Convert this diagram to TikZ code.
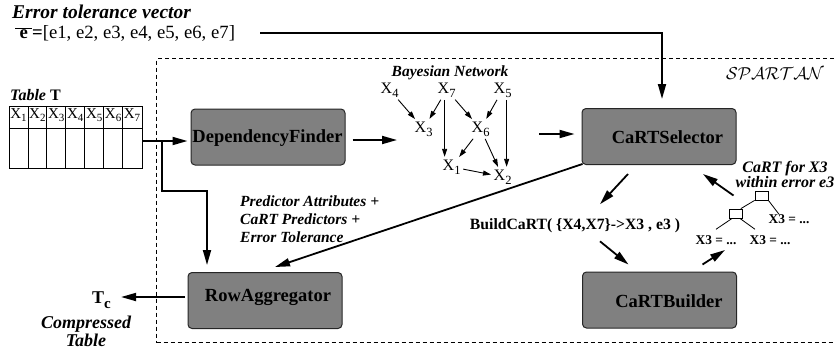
\documentclass[tikz,border=0pt]{standalone}
\usepackage{fontspec}
\setmainfont{Liberation Serif}[BoldFont={Liberation Serif Bold},ItalicFont={Liberation Serif Italic},BoldItalicFont={Liberation Serif Bold Italic}]
\usetikzlibrary{arrows.meta}
\newcommand\fsz[1]{\fontsize{#1}{#1}\selectfont}
\newcommand\xsub[2]{X\raisebox{-.26em}{\fsz{#2}#1}}
\begin{document}
\begin{tikzpicture}[x=1pt,y=-1pt,
  box/.style={draw=black!85,line width=1pt,fill=black!50,rounded corners=4pt,minimum width=154pt,minimum height=56pt,inner sep=0pt},
  boxlbl/.style={font=\fsz{18.5}\bfseries,inner sep=0pt},
  big/.style={line width=1.8pt,-{Triangle[length=15pt,width=8pt]}},
  bn/.style={font=\fsz{16},inner sep=1.5pt,anchor=base west},
  bnarrow/.style={line width=0.9pt,-{Triangle[length=8pt,width=5pt]},shorten >=1pt,shorten <=1pt},
  bi/.style={font=\fontsize{15.5}{18}\selectfont\bfseries\itshape,inner sep=0pt},
  thinl/.style={line width=0.8pt},
  leaf/.style={font=\fsz{13.4}\bfseries,inner sep=0pt},
  tsq/.style={draw,line width=0.8pt,minimum width=13pt,minimum height=9pt,inner sep=0pt}
]
\useasboundingbox (0,0) rectangle (834,349);
\clip (0,0) rectangle (834,349);

% SPARTAN frame
\node[draw,dashed,dash pattern=on 4pt off 3pt,line width=1pt,minimum width=690pt,minimum height=284pt,inner sep=0pt,anchor=north west] (frame) at (156,58) {};
\node[font=\fsz{17.5},inner sep=0pt] (spartan) at (775,74) {$\mathcal{SPARTAN}$};

% error tolerance vector
\node[font=\fsz{19.5}\bfseries\itshape,anchor=west,inner sep=0pt] (evt) at (12,12) {Error tolerance vector};
\node[font=\fsz{18.7},anchor=west,inner sep=0pt] (ev) at (15,33) {$\overline{\makebox[17pt]{\textbf{e}}}$\textbf{=}[e1, e2, e3, e4, e5, e6, e7]};

% table
\node[font=\fsz{16},anchor=west,inner sep=0pt] (tlbl) at (10,95) {\textbf{\itshape Table} \textbf{T}};
\node[draw,line width=0.8pt,minimum width=132.5pt,minimum height=62pt,inner sep=0pt,anchor=north west] (tbl) at (9,106) {};
\foreach \i in {1,...,6} { \draw[thinl] ({9+18.93*\i},106) -- ({9+18.93*\i},168); }
\draw[thinl] (tbl.west |- 0,128) -- (tbl.east |- 0,128);
\foreach \i in {1,...,7} { \node[font=\fsz{15},inner sep=0pt,anchor=base] (h\i) at ({9+18.93*(\i-0.5)},118) {\xsub{\i}{11}}; }

% boxes
\node[box] (dep) at (268,137) {};
\node[boxlbl] (depl) at (267.5,138) {DependencyFinder};
\node[box] (sel) at (659,136.5) {};
\node[boxlbl] (sell) at (667.5,137) {CaRTSelector};
\node[box] (row) at (265,300.5) {};
\node[boxlbl] (rowl) at (268,297) {RowAggregator};
\node[box] (cb) at (659.5,300) {};
\node[boxlbl] (cbl) at (669,301) {CaRTBuilder};

% Bayesian network
\node[bi] (bntitle) at (450,73) {Bayesian Network};
\node[bn] (x4) at (379,93) {\xsub{4}{12.5}};
\node[bn] (x7) at (436,93) {\xsub{7}{12.5}};
\node[bn] (x5) at (492,93) {\xsub{5}{12.5}};
\node[bn] (x3) at (413,132) {\xsub{3}{12.5}};
\node[bn] (x6) at (470,132) {\xsub{6}{12.5}};
\node[bn] (x1) at (441,170) {\xsub{1}{12.5}};
\node[bn] (x2) at (492,180) {\xsub{2}{12.5}};
\draw[bnarrow] (x4) -- (x3);
\draw[bnarrow] (x7) -- (x3);
\draw[bnarrow] (x7) -- (x6);
\draw[bnarrow] ([xshift=-2pt]x7.south) -- ([xshift=-2pt]x7.south |- x1.north);
\draw[bnarrow] (x5) -- (x6);
\draw[bnarrow] ([xshift=4pt]x5.south) -- ([xshift=4pt]x5.south |- x2.north);
\draw[bnarrow] (x6) -- (x1);
\draw[bnarrow] (x6) -- (x2);
\draw[bnarrow] (x1) -- (x2);

% labels
\node[bi,align=left,anchor=north west] (pred) at (240,196) {Predictor Attributes +\\ CaRT Predictors +\\Error Tolerance};
\node[font=\fsz{15.7}\bfseries,inner sep=0pt] (build) at (575,226) {BuildCaRT( \{X4,X7\}->X3 , e3 )};
\node[font=\fontsize{16}{15}\selectfont\bfseries\itshape,align=center,inner sep=0pt] (cartl) at (785,174.5) {CaRT for X3\\within error e3};
\node[font=\fsz{18}\bfseries,anchor=base west,inner sep=0pt] (tc) at (92,303) {T\raisebox{-5pt}{\fsz{15}c}};
\node[font=\fontsize{18}{18}\selectfont\bfseries\itshape,align=center,inner sep=0pt] (ctab) at (86,331) {Compressed\\Table};

% tree
\node[tsq] (troot) at (761.5,195.5) {};
\node[tsq] (tchild) at (736,213.5) {};
\node[leaf] (lf1) at (789,219) {X3 = ...};
\node[leaf] (lf2) at (716,240) {X3 = ...};
\node[leaf] (lf3) at (770,240) {X3 = ...};
\draw[thinl] (troot.south west) -- ([xshift=-2pt]tchild.north east);
\draw[thinl] (troot.south east) -- ([xshift=-10pt]lf1.north);
\draw[thinl] ([xshift=3pt]tchild.south west) -- ([yshift=6pt]lf2.north);
\draw[thinl] ([xshift=-3pt]tchild.south east) -- ([xshift=-15pt,yshift=6pt]lf3.north);

% connectors
\coordinate (tA) at (143,141);
\coordinate (br) at (162,141);
\coordinate (br2) at (207,191);
\draw[big,shorten >=3pt] (tA) -- (tA -| dep.west);
\draw[big,shorten >=7pt] (br) |- (br2) -- (br2 |- row.north);
\coordinate (bnL) at (397,140);
\draw[big,shorten <=7pt] (dep.east |- bnL) -- (bnL);
\coordinate (bnR) at (539,134);
\draw[big,shorten >=7pt] (bnR) -- (bnR -| sel.west);
\coordinate (evS) at (260,33);
\draw[big,shorten >=9pt] (evS) -| ([xshift=3pt]sel.north);
\draw[big] ([xshift=1pt,yshift=1pt]sel.south west) -- ([xshift=10pt,yshift=5pt]row.north);
\draw[big] ([xshift=-31pt,yshift=-9pt]sel.south) -- ([xshift=25pt,yshift=14.5pt]build.north);
\draw[big] ([xshift=25pt,yshift=-8pt]build.south) -- ([xshift=-31pt,yshift=7pt]cb.north);
\draw[big] ([xshift=43pt,yshift=7pt]cb.north) -- ([xshift=9pt,yshift=-10pt]lf2.center);
\draw[big] ([xshift=-28pt]troot.center) -- ([xshift=44pt,yshift=-9pt]sel.south);
\coordinate (rl) at (185,297);
\draw[big,shorten >=10pt] (rl) -- (rl -| tc.east);
\end{tikzpicture}
\end{document}
